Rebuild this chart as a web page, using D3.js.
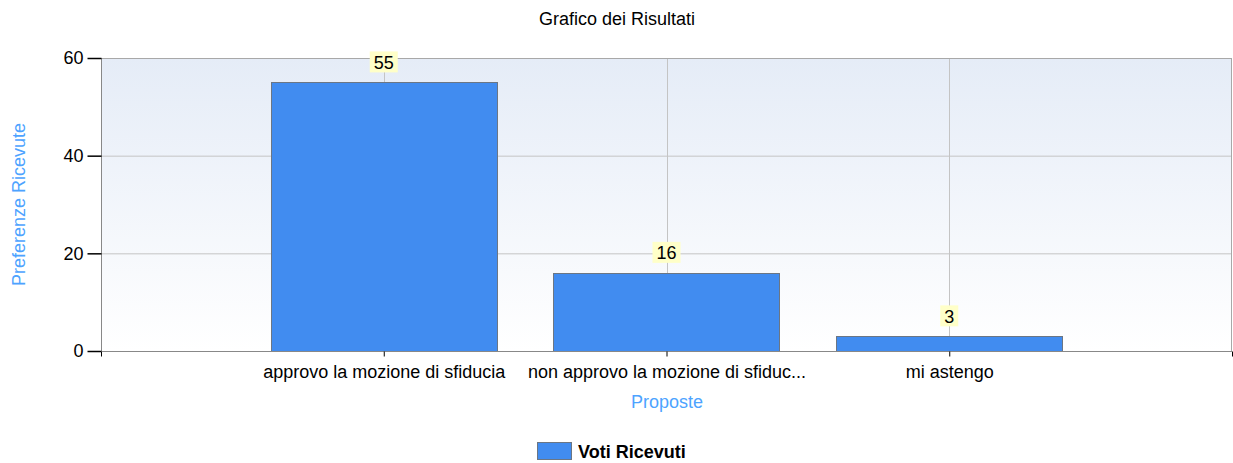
<!DOCTYPE html>
<html><head><meta charset="utf-8">
<script src="https://cdn.jsdelivr.net/npm/d3@7"></script>
<style>body{margin:0;background:#fff}svg{display:block}</style>
</head><body>
<svg id="c" width="1233" height="463"></svg>
<script>
const categories = ["approvo la mozione di sfiducia", "non approvo la mozione di sfiduc...", "mi astengo"];
const values = [55, 16, 3];
const yTicks = [0, 20, 40, 60];
const seriesName = "Voti Ricevuti";
const title = "Grafico dei Risultati";
const xTitle = "Proposte";
const yTitle = "Preferenze Ricevute";

const svg = d3.select("#c");
const L = 101, R = 1232, T = 58, B = 351;
const font = "'Liberation Sans', Arial, sans-serif";
const fs = 18;

const x = d3.scaleLinear().domain([0, categories.length + 1]).range([L, R]);
const y = d3.scaleLinear().domain([0, 60]).range([B, T]);

const defs = svg.append("defs");
const g = defs.append("linearGradient").attr("id", "bg").attr("x1", 0).attr("y1", 0).attr("x2", 0).attr("y2", 1);
g.append("stop").attr("offset", "0%").attr("stop-color", "#e5ecf7");
g.append("stop").attr("offset", "100%").attr("stop-color", "#ffffff");

svg.append("rect").attr("x", L).attr("y", T).attr("width", R - L).attr("height", B - T).attr("fill", "url(#bg)");

// horizontal grid
svg.append("g").selectAll("line").data(yTicks.filter(d => d > 0)).join("line")
  .attr("x1", L).attr("x2", R).attr("y1", d => y(d) + 0.5).attr("y2", d => y(d) + 0.5)
  .attr("stroke", "#c4c4c4").attr("stroke-width", 1);
// vertical grid
svg.append("g").selectAll("line").data(categories.map((c, i) => i + 1)).join("line")
  .attr("x1", d => Math.round(x(d)) + 0.5).attr("x2", d => Math.round(x(d)) + 0.5).attr("y1", T).attr("y2", B)
  .attr("stroke", "#c4c4c4").attr("stroke-width", 1);

// plot border
svg.append("rect").attr("x", L + 0.5).attr("y", T + 0.5).attr("width", R - L - 1).attr("height", B - T)
  .attr("fill", "none").attr("stroke", "#a8a8a8");

// bars
const bw = (x(1) - x(0)) * 0.8;
svg.append("g").selectAll("rect").data(values).join("rect")
  .attr("x", (d, i) => Math.round(x(i + 1) - bw / 2) + 0.5)
  .attr("y", d => Math.round(y(d)) + 0.5)
  .attr("width", Math.round(bw))
  .attr("height", d => B - Math.round(y(d)))
  .attr("fill", "#418cf0").attr("stroke", "#6b7684").attr("stroke-width", 1);

// axes
const yAxis = d3.axisLeft(y).tickValues(yTicks).tickSize(14).tickPadding(4);
const ya = svg.append("g").attr("transform", `translate(${L + 0.5},0)`).call(yAxis);
ya.select(".domain").attr("stroke", "#888").attr("d", `M0,${T}V${B}`);
ya.selectAll(".tick line").attr("stroke", "#000").attr("stroke-width", 1.5);
ya.selectAll("text").attr("font-family", font).attr("font-size", fs).attr("fill", "#000");

const xAxis = d3.axisBottom(x).tickValues(d3.range(0, categories.length + 2)).tickSize(5)
  .tickFormat(d => (d >= 1 && d <= categories.length) ? categories[d - 1] : "").tickPadding(9);
const xa = svg.append("g").attr("transform", `translate(0,${B + 0.5})`).call(xAxis);
xa.select(".domain").attr("stroke", "#888").attr("d", `M${L},0H${R}`);
xa.selectAll(".tick line").attr("stroke", "#000");
xa.selectAll("text").attr("font-family", font).attr("font-size", fs).attr("fill", "#000");

// value labels
const lab = svg.append("g").selectAll("g").data(values).join("g")
  .attr("transform", (d, i) => `translate(${x(i + 1)},${y(d) - 20})`);
lab.append("rect").attr("x", d => -(String(d).length * 10 + 8) / 2).attr("y", -11)
  .attr("width", d => String(d).length * 10 + 8).attr("height", 21).attr("fill", "#ffffc8");
lab.append("text").attr("text-anchor", "middle").attr("dy", "0.36em")
  .attr("font-family", font).attr("font-size", fs).attr("fill", "#000").text(d => d);

// titles
svg.append("text").attr("x", 617).attr("y", 25).attr("text-anchor", "middle")
  .attr("font-family", font).attr("font-size", fs).attr("fill", "#000").text(title);
svg.append("text").attr("x", 667).attr("y", 408).attr("text-anchor", "middle")
  .attr("font-family", font).attr("font-size", fs).attr("fill", "#4da3ff").text(xTitle);
svg.append("text").attr("transform", `translate(25,${(T + B) / 2}) rotate(-90)`).attr("text-anchor", "middle")
  .attr("font-family", font).attr("font-size", fs).attr("fill", "#4da3ff").text(yTitle);

// legend
svg.append("rect").attr("x", 537.5).attr("y", 442.5).attr("width", 34).attr("height", 17)
  .attr("fill", "#418cf0").attr("stroke", "#6b7684");
svg.append("text").attr("x", 578).attr("y", 458).attr("font-family", font).attr("font-size", fs)
  .attr("font-weight", "bold").attr("fill", "#000").text(seriesName);
</script>
</body></html>
